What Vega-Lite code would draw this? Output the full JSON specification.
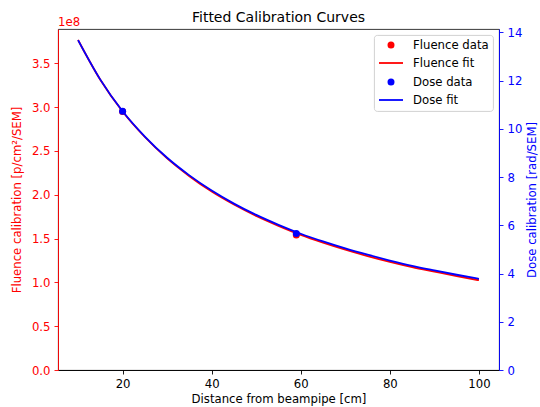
{
  "$schema": "https://vega.github.io/schema/vega-lite/v6.json",
  "width": 441,
  "height": 341,
  "autosize": {"type": "none"},
  "padding": {"left": 58, "top": 29, "right": 41, "bottom": 37},
  "background": "white",
  "title": {"text": "Fitted Calibration Curves", "fontSize": 14, "fontWeight": "normal", "font": "DejaVu Sans", "color": "#000000", "anchor": "middle", "baseline": "alphabetic", "offset": -19},
  "config": {
    "font": "DejaVu Sans",
    "view": {"stroke": "#222222", "strokeWidth": 0.9},
    "axis": {"labelFont": "DejaVu Sans", "labelFontSize": 11.7, "titleFont": "DejaVu Sans", "titleFontSize": 11.7, "titleFontWeight": "normal", "tickSize": 4, "labelPadding": 4, "tickWidth": 0.9, "domainWidth": 0.9, "grid": false, "labelColor": "#000000", "titleColor": "#000000", "tickColor": "#000000", "domainColor": "#000000", "labelFlush": false, "labelOverlap": false},
    "legend": {"symbolSize": 100, "labelFont": "DejaVu Sans", "labelFontSize": 11.7, "labelColor": "#000000", "padding": 4, "labelOffset": 23, "rowPadding": 5, "fillColor": "rgba(255,255,255,0.8)", "strokeColor": "#cccccc", "strokeWidth": 0.9, "cornerRadius": 3, "offset": 6, "symbolStrokeWidth": 1.8}
  },
  "datasets": {
    "curves": [
      {"x": 10, "fluence": 376500000, "dose": 13.68},
      {"x": 15, "fluence": 331100000, "dose": 12.04},
      {"x": 20, "fluence": 294900000, "dose": 10.73},
      {"x": 25, "fluence": 265800000, "dose": 9.68},
      {"x": 30, "fluence": 241400000, "dose": 8.80},
      {"x": 35, "fluence": 221100000, "dose": 8.07},
      {"x": 40, "fluence": 203500000, "dose": 7.44},
      {"x": 45, "fluence": 188700000, "dose": 6.90},
      {"x": 50, "fluence": 175700000, "dose": 6.43},
      {"x": 55, "fluence": 164400000, "dose": 6.02},
      {"x": 60, "fluence": 154100000, "dose": 5.65},
      {"x": 65, "fluence": 145300000, "dose": 5.33},
      {"x": 70, "fluence": 137300000, "dose": 5.04},
      {"x": 75, "fluence": 130000000, "dose": 4.78},
      {"x": 80, "fluence": 123400000, "dose": 4.54},
      {"x": 85, "fluence": 117400000, "dose": 4.32},
      {"x": 90, "fluence": 112200000, "dose": 4.13},
      {"x": 95, "fluence": 107100000, "dose": 3.95},
      {"x": 100, "fluence": 102400000, "dose": 3.78}
    ],
    "measurements": [
      {"x": 20, "fluence": 295000000, "dose": 10.73},
      {"x": 59, "fluence": 154000000, "dose": 5.66}
    ],
    "offsetLabel": [{"label": "1e8"}]
  },
  "layer": [
    {
      "layer": [
        {
          "data": {"name": "curves"},
          "mark": {"type": "line", "strokeWidth": 1.8, "interpolate": "monotone"},
          "encoding": {
            "x": {"field": "x", "type": "quantitative", "scale": {"domain": [5.5, 104.5], "nice": false, "zero": false}, "axis": {"values": [20, 40, 60, 80, 100], "title": "Distance from beampipe [cm]", "titlePadding": 4}},
            "y": {"field": "fluence", "type": "quantitative", "scale": {"domain": [0, 389000000], "nice": false}, "axis": {"orient": "left", "values": [0, 50000000, 100000000, 150000000, 200000000, 250000000, 300000000, 350000000], "labelExpr": "format(datum.value/100000000, '.1f')", "title": "Fluence calibration [p/cm²/SEM]", "titlePadding": 9, "labelColor": "#ff0000", "titleColor": "#ff0000", "tickColor": "#ff0000", "domainColor": "#ff0000"}},
            "color": {"datum": "Fluence fit", "type": "nominal", "scale": {"domain": ["Fluence data", "Fluence fit", "Dose data", "Dose fit"], "range": ["#ff0000", "#ff0000", "#0000ff", "#0000ff"]}, "legend": {"title": null, "orient": "top-right", "encode": {"symbols": {"update": {"shape": {"signal": "indexof(datum.value, 'fit') >= 0 ? 'M-1,0H3.8' : 'M1.92,0A0.52,0.52,0,1,1,0.88,0A0.52,0.52,0,1,1,1.92,0Z'"}, "fill": {"signal": "indexof(datum.value, 'fit') >= 0 ? 'transparent' : scale('color', datum.value)"}, "stroke": {"signal": "scale('color', datum.value)"}, "opacity": {"value": 1}}}}}}
          }
        },
        {
          "data": {"name": "measurements"},
          "mark": {"type": "point", "filled": true, "size": 49, "opacity": 1},
          "encoding": {
            "x": {"field": "x", "type": "quantitative"},
            "y": {"field": "fluence", "type": "quantitative"},
            "color": {"datum": "Fluence data", "type": "nominal"}
          }
        },
        {
          "data": {"name": "offsetLabel"},
          "mark": {"type": "text", "align": "left", "baseline": "alphabetic", "dy": -3.5, "fontSize": 11.7, "font": "DejaVu Sans", "color": "#ff0000"},
          "encoding": {
            "x": {"datum": 5.5, "type": "quantitative"},
            "y": {"datum": 389000000, "type": "quantitative"},
            "text": {"field": "label"}
          }
        }
      ]
    },
    {
      "layer": [
        {
          "data": {"name": "curves"},
          "mark": {"type": "line", "strokeWidth": 1.8, "interpolate": "monotone"},
          "encoding": {
            "x": {"field": "x", "type": "quantitative"},
            "y": {"field": "dose", "type": "quantitative", "scale": {"domain": [0, 14.14], "nice": false}, "axis": {"orient": "right", "values": [0, 2, 4, 6, 8, 10, 12, 14], "title": "Dose calibration [rad/SEM]", "titleAngle": 270, "titleBaseline": "top", "titlePadding": 5, "labelColor": "#0000ff", "titleColor": "#0000ff", "tickColor": "#0000ff", "domainColor": "#0000ff"}},
            "color": {"datum": "Dose fit", "type": "nominal"}
          }
        },
        {
          "data": {"name": "measurements"},
          "mark": {"type": "point", "filled": true, "size": 49, "opacity": 1},
          "encoding": {
            "x": {"field": "x", "type": "quantitative"},
            "y": {"field": "dose", "type": "quantitative"},
            "color": {"datum": "Dose data", "type": "nominal"}
          }
        }
      ]
    }
  ],
  "resolve": {"scale": {"y": "independent"}}
}
